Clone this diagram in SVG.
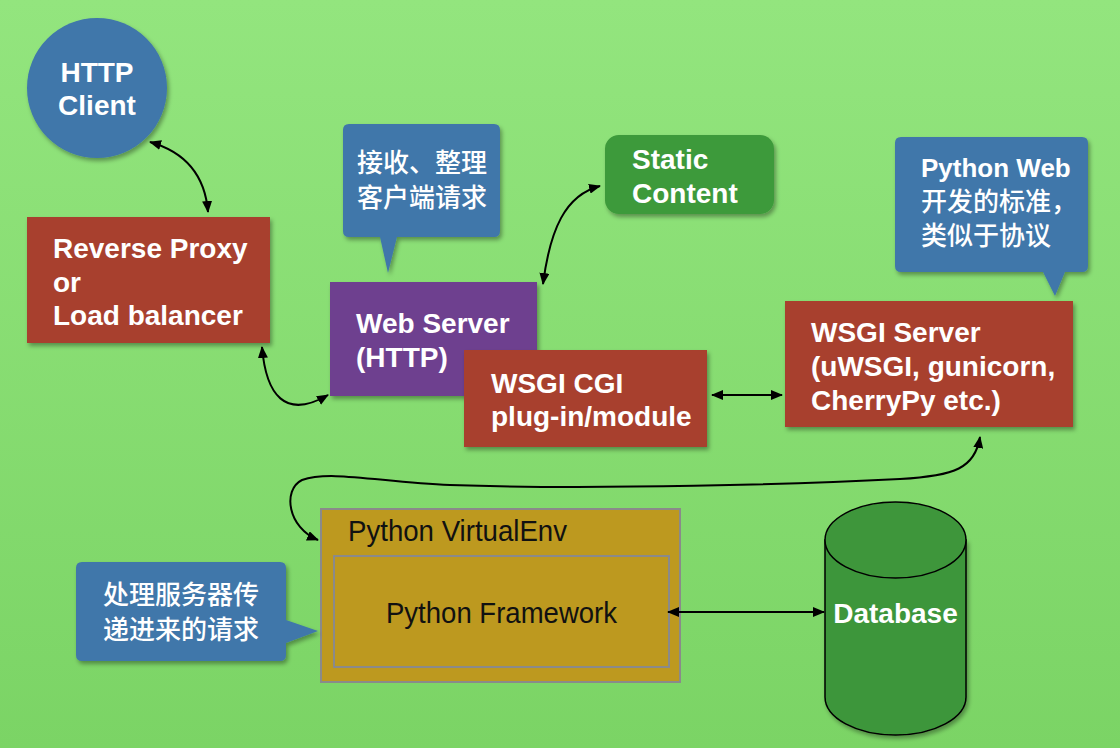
<svg xmlns="http://www.w3.org/2000/svg" width="1120" height="748" viewBox="0 0 1120 748">
<defs>
<linearGradient id="bg" x1="0" y1="0" x2="0" y2="1">
<stop offset="0" stop-color="#93e57e"/>
<stop offset="1" stop-color="#7bd465"/>
</linearGradient>
<filter id="sh" x="-10%" y="-10%" width="130%" height="130%">
<feDropShadow dx="2" dy="3" stdDeviation="2" flood-color="#000" flood-opacity="0.35"/>
</filter>
<marker id="ah" viewBox="0 0 12 10" refX="11" refY="5" markerWidth="12" markerHeight="10" markerUnits="userSpaceOnUse" orient="auto-start-reverse">
<path d="M0,0 L12,5 L0,10 z" fill="#000"/>
</marker>
<style>
.b{font-family:"Liberation Sans",Arial,sans-serif;font-weight:bold;font-size:28px;fill:#fff}
.c{font-family:"Liberation Sans","Noto Sans CJK SC",sans-serif;font-size:26px;font-weight:500;fill:#fff}
.cb{font-family:"Liberation Sans","Noto Sans CJK SC",sans-serif;font-size:26px;font-weight:bold;fill:#fff}
.l{font-family:"Liberation Sans",Arial,sans-serif;font-size:29px;fill:#111}
.red{fill:#a8412f}
.blue{fill:#3f77aa}
.conn{fill:none;stroke:#000;stroke-width:2;marker-start:url(#ah);marker-end:url(#ah)}
</style>
</defs>
<rect x="0" y="0" width="1120" height="748" fill="url(#bg)"/>

<g id="http-client">
<circle cx="97" cy="88" r="70" class="blue" filter="url(#sh)"/>
<text class="b" x="97" y="82" text-anchor="middle">HTTP</text>
<text class="b" x="97" y="115" text-anchor="middle">Client</text>
</g>

<g id="reverse-proxy">
<rect x="27" y="217" width="243" height="126" class="red" filter="url(#sh)"/>
<text class="b" x="53" y="258">Reverse Proxy</text>
<text class="b" x="53" y="292">or</text>
<text class="b" x="53" y="325">Load balancer</text>
</g>

<g id="callout-request">
<path d="M349,124 H494 Q500,124 500,130 V231 Q500,237 494,237 H397 L388,273 L380,237 H349 Q343,237 343,231 V130 Q343,124 349,124 Z" class="blue" filter="url(#sh)"/>
<text class="c" x="357" y="172">接收、整理</text>
<text class="c" x="357" y="207">客户端请求</text>
</g>

<g id="web-server">
<rect x="330" y="282" width="207" height="114" fill="#6e3f8f" filter="url(#sh)"/>
<text class="b" x="356" y="333">Web Server</text>
<text class="b" x="356" y="367">(HTTP)</text>
</g>

<g id="static-content">
<rect x="605" y="135" width="169" height="79" rx="14" fill="#3d9a3a" filter="url(#sh)"/>
<text class="b" x="632" y="169">Static</text>
<text class="b" x="632" y="203">Content</text>
</g>

<g id="wsgi-cgi">
<rect x="464" y="350" width="243" height="97" class="red" filter="url(#sh)"/>
<text class="b" x="491" y="393">WSGI CGI</text>
<text class="b" x="491" y="426">plug-in/module</text>
</g>

<g id="callout-wsgi">
<path d="M901,137 H1082 Q1088,137 1088,143 V266 Q1088,272 1082,272 H1065 L1055,296 L1043,272 H901 Q895,272 895,266 V143 Q895,137 901,137 Z" class="blue" filter="url(#sh)"/>
<text class="cb" x="921" y="177">Python Web</text>
<text class="c" x="921" y="211">开发的标准，</text>
<text class="c" x="921" y="245">类似于协议</text>
</g>

<g id="wsgi-server">
<rect x="785" y="301" width="288" height="126" class="red" filter="url(#sh)"/>
<text class="b" x="811" y="342">WSGI Server</text>
<text class="b" x="811" y="376">(uWSGI, gunicorn,</text>
<text class="b" x="811" y="410">CherryPy etc.)</text>
</g>

<g id="virtualenv">
<rect x="321" y="509" width="359" height="173" fill="#bd991f" stroke="#8a8a8a" stroke-width="2"/>
<text class="l" x="348" y="541" textLength="219" lengthAdjust="spacingAndGlyphs">Python VirtualEnv</text>
</g>

<g id="python-framework">
<rect x="334" y="556" width="335" height="111" fill="#bd991f" stroke="#8a8a8a" stroke-width="2"/>
<text class="l" x="386" y="623" textLength="231" lengthAdjust="spacingAndGlyphs">Python Framework</text>
</g>

<g id="callout-framework">
<path d="M82,562 H280 Q286,562 286,568 V620 L318,631 L286,643 V655 Q286,661 280,661 H82 Q76,661 76,655 V568 Q76,562 82,562 Z" class="blue" filter="url(#sh)"/>
<text class="c" x="103" y="604">处理服务器传</text>
<text class="c" x="103" y="639">递进来的请求</text>
</g>

<g id="database">
<path d="M825,540 V697 A70.5,38 0 0 0 966,697 V540 Z" fill="#3e963b" stroke="#000" stroke-width="1.5" filter="url(#sh)"/>
<ellipse cx="895.5" cy="540" rx="70.5" ry="38" fill="#3e963b" stroke="#000" stroke-width="1.5"/>
<text class="b" x="895.5" y="623" text-anchor="middle">Database</text>
</g>

<g id="connectors">
<path class="conn" d="M150,142 C185,152 205,175 208,212"/>
<path class="conn" d="M262,347 C266,395 285,420 328,395"/>
<path class="conn" d="M543,284 C550,230 565,195 600,186"/>
<path class="conn" d="M712,395 L782,395"/>
<path class="conn" d="M980,437 C975,468 955,476 900,479 C800,484 600,490 450,485 C380,482 330,470 302,480 C282,490 288,528 318,540"/>
<path class="conn" d="M668,612 L824,612"/>
</g>
</svg>
